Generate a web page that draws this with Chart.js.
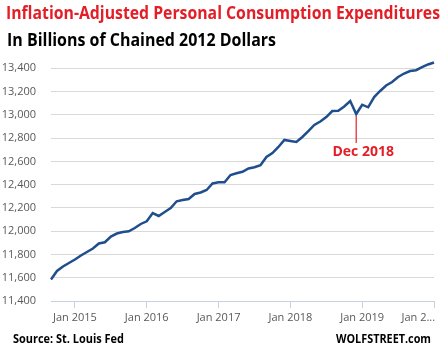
<!DOCTYPE html>
<html>
<head>
<meta charset="utf-8">
<script src="https://cdn.jsdelivr.net/npm/chart.js@4.4.0/dist/chart.umd.min.js"></script>
<style>
  html, body { margin: 0; padding: 0; background: #fff; }
  #quadro { position: relative; width: 445px; height: 353px; overflow: hidden; font-family: "Open Sans", sans-serif; }
  #grafico { position: absolute; left: 0; top: 0; }
  .txt { position: absolute; white-space: nowrap; font-weight: bold; line-height: 1; transform-origin: 0 0; }
  #titulo { left: 6px; top: 3px; font-size: 18px; color: #e31e26; }
  #subtitulo { left: 7px; top: 30px; font-size: 18px; color: #000; }
  #fonte { left: 13px; top: 333px; font-size: 12px; color: #000; }
  #site { left: 336px; top: 333px; font-size: 12px; color: #000; }
</style>
</head>
<body>
<div id="quadro">
  <canvas id="grafico" width="445" height="353"></canvas>
  <div class="txt" id="titulo" data-largura="434">Inflation-Adjusted Personal Consumption Expenditures</div>
  <div class="txt" id="subtitulo" data-largura="269">In Billions of Chained 2012 Dollars</div>
  <div class="txt" id="fonte" data-largura="111">Source: St. Louis Fed</div>
  <div class="txt" id="site" data-largura="95">WOLFSTREET.com</div>
</div>
<script>
    // meses (Sep 2014 ate Jan 2020)
    let meses = [
      "Sep 2014", "Oct 2014", "Nov 2014", "Dec 2014",
      "Jan 2015", "Feb 2015", "Mar 2015", "Apr 2015", "May 2015", "Jun 2015", "Jul 2015", "Aug 2015", "Sep 2015", "Oct 2015", "Nov 2015", "Dec 2015",
      "Jan 2016", "Feb 2016", "Mar 2016", "Apr 2016", "May 2016", "Jun 2016", "Jul 2016", "Aug 2016", "Sep 2016", "Oct 2016", "Nov 2016", "Dec 2016",
      "Jan 2017", "Feb 2017", "Mar 2017", "Apr 2017", "May 2017", "Jun 2017", "Jul 2017", "Aug 2017", "Sep 2017", "Oct 2017", "Nov 2017", "Dec 2017",
      "Jan 2018", "Feb 2018", "Mar 2018", "Apr 2018", "May 2018", "Jun 2018", "Jul 2018", "Aug 2018", "Sep 2018", "Oct 2018", "Nov 2018", "Dec 2018",
      "Jan 2019", "Feb 2019", "Mar 2019", "Apr 2019", "May 2019", "Jun 2019", "Jul 2019", "Aug 2019", "Sep 2019", "Oct 2019", "Nov 2019", "Dec 2019",
      "Jan 2020"
    ];

    // gastos reais, bilhoes de dolares de 2012
    let pce = [
      11585, 11658, 11697, 11727,
      11757, 11791, 11821, 11851, 11894, 11905, 11954, 11980, 11993, 11999, 12027, 12062,
      12085, 12156, 12131, 12165, 12199, 12257, 12268, 12277, 12320, 12333, 12354, 12410,
      12420, 12421, 12483, 12498, 12511, 12539, 12550, 12567, 12638, 12672, 12724, 12784,
      12775, 12767, 12810, 12861, 12913, 12943, 12981, 13033, 13036, 13072, 13119, 13007,
      13087, 13065, 13153, 13205, 13252, 13282, 13325, 13355, 13377, 13384, 13411, 13433,
      13450
    ];

    let mesesComRotulo = ["Jan 2015", "Jan 2016", "Jan 2017", "Jan 2018", "Jan 2019", "Jan 2020"];
    let rotulosX = ["Jan 2015", "Jan 2016", "Jan 2017", "Jan 2018", "Jan 2019", "Jan 2..."];
    let rotulosY = [11400, 11600, 11800, 12000, 12200, 12400, 12600, 12800, 13000, 13200, 13400];

    let mesDestaque = "Dec 2018";
    let textoDestaque = "Dec 2018";

    const vermelho = "#e31e26";
    const azul = "#1f4e8c";
    const cinzaTexto = "#595959";

    // deixa os textos com a largura do original (fonte Calibri e mais estreita)
    document.querySelectorAll(".txt").forEach(el => {
      let alvo = parseFloat(el.dataset.largura);
      let w = el.getBoundingClientRect().width;
      if (w > 0) el.style.transform = "scaleX(" + (alvo / w) + ")";
    });

    const anotacao = {
      id: "anotacao",
      afterDatasetsDraw(chart) {
        let ctx = chart.ctx;
        let i = meses.indexOf(mesDestaque);
        let px = chart.scales.x.getPixelForValue(i);
        let py = chart.scales.y.getPixelForValue(pce[i]);
        ctx.save();
        ctx.strokeStyle = vermelho;
        ctx.lineWidth = 1.2;
        ctx.beginPath();
        ctx.moveTo(px, py + 2);
        ctx.lineTo(px, py + 29);
        ctx.stroke();
        ctx.fillStyle = vermelho;
        ctx.font = 'bold 14px "Open Sans"';
        ctx.textAlign = "center";
        ctx.textBaseline = "alphabetic";
        ctx.fillText(textoDestaque, px + 7, py + 42);
        ctx.restore();
      }
    };

    let grafico = new Chart(document.getElementById("grafico").getContext("2d"), {
      type: "line",
      data: {
        labels: meses,
        datasets: [{
          data: pce,
          borderColor: azul,
          borderWidth: 2.5,
          pointRadius: 0,
          tension: 0,
          fill: false
        }]
      },
      options: {
        responsive: false,
        animation: false,
        devicePixelRatio: 1,
        layout: { padding: { top: 59, right: 11, bottom: 22, left: 0 } },
        plugins: {
          legend: { display: false },
          tooltip: { enabled: false }
        },
        scales: {
          x: {
            type: "category",
            offset: false,
            afterFit: s => { s.height = 30; s.paddingLeft = 0; s.paddingRight = 0; },
            grid: { drawOnChartArea: false, drawTicks: true, tickLength: 7, color: "#c7d1e3", offset: false },
            border: { color: "#c7d1e3", width: 1 },
            ticks: {
              autoSkip: false,
              maxRotation: 0,
              minRotation: 0,
              padding: 3,
              color: cinzaTexto,
              font: { family: "Open Sans", size: 11 },
              callback: function (val, idx) {
                let k = mesesComRotulo.indexOf(meses[idx]);
                if (k < 0) return null;
                // ultimo rotulo cortado na borda, como no original
                if (k === rotulosX.length - 1) return rotulosX[k] + "           ";
                return rotulosX[k];
              }
            }
          },
          y: {
            min: 11400,
            max: 13480,
            afterBuildTicks: s => { s.ticks = rotulosY.map(v => ({ value: v })); },
            afterFit: s => { s.width = 51; s.paddingTop = 0; s.paddingBottom = 0; },
            grid: {
              drawTicks: false,
              lineWidth: 1,
              color: c => (c.tick && c.tick.value === 11400) ? "rgba(0,0,0,0)" : "#d9d9d9"
            },
            border: { display: false },
            ticks: {
              padding: 15,
              color: cinzaTexto,
              font: { family: "Open Sans", size: 11 },
              callback: v => v.toLocaleString("en-US")
            }
          }
        }
      },
      plugins: [anotacao]
    });
</script>
</body>
</html>
